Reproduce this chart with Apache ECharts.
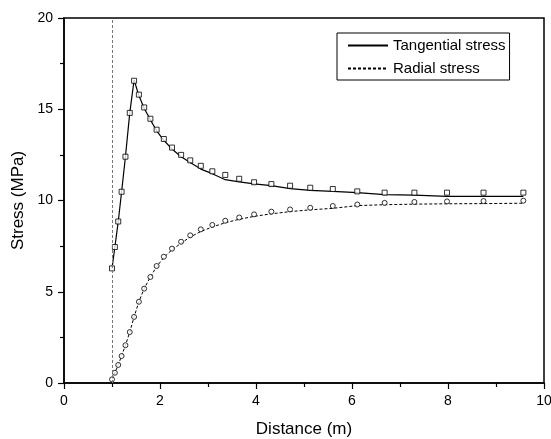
<!DOCTYPE html>
<html>
<head>
<meta charset="utf-8">
<script src="https://cdn.jsdelivr.net/npm/echarts@6/dist/echarts.min.js"></script>
<style>
  html, body { margin: 0; padding: 0; background: #fff; }
  #chart { width: 551px; height: 439px; }
</style>
</head>
<body>
<div id="chart"></div>
<script>
// Distance from the opening centre (m)
const distance = [1.0, 1.06, 1.13, 1.2, 1.28, 1.37, 1.46, 1.56, 1.67, 1.8, 1.93, 2.08, 2.25, 2.44, 2.63,
  2.85, 3.09, 3.36, 3.65, 3.96, 4.32, 4.71, 5.13, 5.6, 6.11, 6.68, 7.3, 7.98, 8.74, 9.57];

// Numerical results (markers)
const tangentialPoints = [6.28, 7.45, 8.85, 10.48, 12.4, 14.8, 16.56, 15.8, 15.1, 14.48, 13.88, 13.37, 12.9, 12.5, 12.2,
  11.9, 11.6, 11.4, 11.19, 11.0, 10.9, 10.81, 10.7, 10.63, 10.5, 10.43, 10.43, 10.43, 10.43, 10.43];
const radialPoints = [0.2, 0.56, 0.99, 1.48, 2.07, 2.79, 3.62, 4.45, 5.17, 5.81, 6.41, 6.92, 7.36, 7.74, 8.09,
  8.42, 8.66, 8.89, 9.07, 9.24, 9.39, 9.51, 9.6, 9.7, 9.78, 9.87, 9.92, 9.95, 9.97, 9.99];

// Curves
const tangentialCurve = [6.28, 7.45, 8.85, 10.48, 12.4, 14.8, 16.6, 15.75, 15.05, 14.42, 13.82, 13.3, 12.82, 12.4, 12.08,
  11.72, 11.47, 11.14, 11.02, 10.91, 10.81, 10.65, 10.56, 10.5, 10.43, 10.32, 10.29, 10.23, 10.23, 10.23];
const radialCurve = [0.2, 0.56, 0.99, 1.48, 2.07, 2.79, 3.62, 4.45, 5.17, 5.81, 6.38, 6.88, 7.3, 7.66, 8.0,
  8.3, 8.55, 8.78, 8.97, 9.13, 9.27, 9.39, 9.49, 9.57, 9.72, 9.77, 9.8, 9.82, 9.83, 9.85];

// Axis ticks
const xTicks = [0, 2, 4, 6, 8, 10];
const yTicks = [0, 5, 10, 15, 20];

const FONT = '"Liberation Sans", Arial, sans-serif';
const pair = (xs, ys) => xs.map((x, i) => [x, ys[i]]);

const chart = echarts.init(document.getElementById('chart'), null, { renderer: 'canvas' });

const axisCommon = {
  type: 'value',
  axisLine: { show: true, onZero: false, lineStyle: { color: '#000', width: 1.5 } },
  axisTick: { show: true, inside: false, length: 6, lineStyle: { color: '#000', width: 1.2 } },
  minorTick: { show: true, splitNumber: 2, length: 4, lineStyle: { color: '#000', width: 1.2 } },
  splitLine: { show: false },
  nameLocation: 'middle',
  nameTextStyle: { color: '#000', fontFamily: FONT, fontSize: 17 },
};

chart.setOption({
  animation: false,
  backgroundColor: '#fff',
  grid: {
    left: 64, right: 7, top: 18, bottom: 56,
    outerBoundsMode: 'none',
    containLabel: false,
    show: true, borderColor: '#000', borderWidth: 1.5, backgroundColor: 'transparent'
  },
  legend: {
    orient: 'vertical',
    left: 337, top: 33,
    padding: [5, 4, 4, 10],
    itemWidth: 40, itemHeight: 14, itemGap: 8,
    borderColor: '#000', borderWidth: 1,
    backgroundColor: '#fff',
    itemStyle: { opacity: 0 },
    textStyle: { color: '#000', fontFamily: FONT, fontSize: 15 },
    data: ['Tangential stress', 'Radial stress']
  },
  xAxis: Object.assign({}, axisCommon, {
    min: xTicks[0], max: xTicks[xTicks.length - 1], interval: 2,
    name: 'Distance (m)', nameGap: 38,
    axisLabel: { color: '#000', fontFamily: FONT, fontSize: 14, margin: 11 }
  }),
  yAxis: Object.assign({}, axisCommon, {
    min: yTicks[0], max: yTicks[yTicks.length - 1], interval: 5,
    name: 'Stress (MPa)', nameGap: 36,
    axisLabel: { color: '#000', fontFamily: FONT, fontSize: 14, margin: 11 }
  }),
  series: [
    {
      name: 'Tangential stress',
      type: 'line',
      data: pair(distance, tangentialCurve),
      symbol: 'none',
      lineStyle: { color: '#000', width: 1.2 },
      itemStyle: { color: '#000' },
      z: 3,
      markLine: {
        silent: true,
        symbol: ['none', 'none'],
        label: { show: false },
        lineStyle: { color: '#777', width: 1, type: [3, 2] },
        data: [{ xAxis: 1 }]
      }
    },
    {
      name: 'Radial stress',
      type: 'line',
      data: pair(distance, radialCurve),
      symbol: 'none',
      lineStyle: { color: '#000', width: 1, type: [3, 2] },
      itemStyle: { color: '#000' },
      z: 3
    },
    {
      name: 'tangential-points',
      type: 'scatter',
      data: pair(distance, tangentialPoints),
      symbol: 'rect',
      symbolSize: 5,
      itemStyle: { color: '#fff', borderColor: '#000', borderWidth: 1 },
      z: 4
    },
    {
      name: 'radial-points',
      type: 'scatter',
      data: pair(distance, radialPoints),
      symbol: 'circle',
      symbolSize: 5,
      itemStyle: { color: '#fff', borderColor: '#000', borderWidth: 1 },
      z: 4
    }
  ]
});
</script>
</body>
</html>
